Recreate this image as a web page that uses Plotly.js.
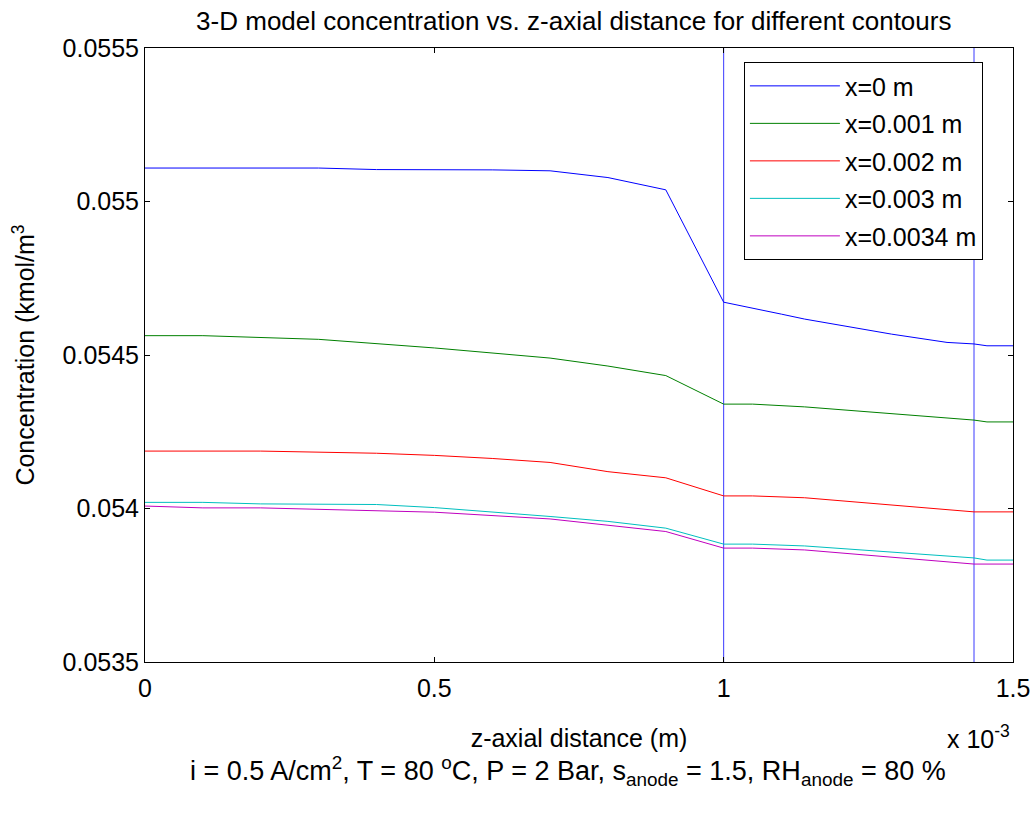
<!DOCTYPE html>
<html>
<head>
<meta charset="utf-8">
<script src="https://cdn.plot.ly/plotly-3.0.1.min.js"></script>
<style>html,body{margin:0;padding:0;background:#fff;}#chart{width:1032px;height:816px;}</style>
</head>
<body>
<div id="chart"></div>
<script>
// Data (z in metres, concentration in kmol/m^3)
const zBlue = [0,0.0001,0.0002,0.0003,0.0004,0.0005,0.0006,0.0007,0.0008,0.0009,0.001,0.0011,0.00114,0.00129,0.001386,0.0014326,0.001455,0.0015];
const cBlue = [0.055109,0.055109,0.055109,0.055109,0.055104,0.055104,0.055103,0.055100,0.055078,0.055038,0.054672,0.054633,0.054617,0.054568,0.054541,0.054536,0.05453,0.05453];

const zGreen = [0,0.0001,0.0003,0.0005,0.0007,0.0008,0.0009,0.001,0.00105,0.00114,0.0014326,0.001455,0.0015];
const cGreen = [0.054563,0.054563,0.054551,0.054523,0.05449,0.054464,0.054433,0.05434,0.05434,0.054331,0.054288,0.054282,0.054282];

const zRed = [0,0.0002,0.0004,0.0005,0.0006,0.0007,0.0008,0.0009,0.001,0.00105,0.00114,0.0014326,0.0015];
const cRed = [0.054187,0.054187,0.05418,0.054173,0.054163,0.05415,0.05412,0.0541,0.054041,0.054041,0.054035,0.053989,0.053989];

const zCyan = [0,0.0001,0.0002,0.0004,0.0005,0.0006,0.0007,0.0008,0.0009,0.001,0.00105,0.00114,0.0014326,0.001455,0.0015];
const cCyan = [0.05402,0.05402,0.054015,0.054013,0.054003,0.053989,0.053974,0.053958,0.053936,0.053884,0.053884,0.053878,0.053839,0.053832,0.053832];

const zMag = [0,0.0001,0.0002,0.0005,0.0007,0.0008,0.0009,0.001,0.00105,0.00114,0.0014326,0.0015];
const cMag = [0.054008,0.054002,0.054002,0.053988,0.053966,0.053946,0.053925,0.053871,0.053871,0.053865,0.053819,0.053819];

const seriesNames = ['x=0 m','x=0.001 m','x=0.002 m','x=0.003 m','x=0.0034 m'];
const seriesColors = ['#0000ff','#008000','#ff0000','#00bfbf','#bf00bf'];
const boundaries = [0.001, 0.0014326];

const xTickVals = [0,0.0005,0.001,0.0015];
const xTickText = ['0','0.5','1','1.5'];
const yTickVals = [0.0535,0.054,0.0545,0.055,0.0555];
const yTickText = ['0.0535','0.054','0.0545','0.055','0.0555'];

const zs = [zBlue,zGreen,zRed,zCyan,zMag];
const cs = [cBlue,cGreen,cRed,cCyan,cMag];

const font = 'Liberation Sans, Arial, sans-serif';
const FS = 25;

const traces = zs.map((z,i)=>({
  x: z, y: cs[i], type:'scatter', mode:'lines', name: seriesNames[i],
  legendgroup: 'g'+i,
  line:{color: seriesColors[i], width:1}
}));

const shapes = boundaries.map(b=>({
  type:'line', xref:'x', yref:'paper', x0:b, x1:b, y0:0, y1:1,
  line:{color:'#3a3aff', width:1}, layer:'below'
}));

const layout = {
  width:1032, height:816,
  margin:{l:145, r:19, t:48, b:154},
  paper_bgcolor:'#fff', plot_bgcolor:'#fff',
  font:{family:font, size:FS, color:'#000'},
  title:{text:'3-D model concentration vs. z-axial distance for different contours',
         font:{family:font, size:26, color:'#000'}, x:0.556, xanchor:'center', y:0.975, yanchor:'middle'},
  xaxis:{range:[0,0.0015], tickvals:xTickVals, ticktext:xTickText,
         ticks:'inside', ticklen:5, tickcolor:'#000', showline:true, linecolor:'#000', linewidth:1,
         mirror:'ticks', showgrid:false, zeroline:false, ticklabelstandoff:4,
         tickfont:{family:font, size:FS},
         title:{text:'z-axial distance (m)', font:{family:font, size:FS}, standoff:28}},
  yaxis:{range:[0.0535,0.0555], tickvals:yTickVals, ticktext:yTickText,
         ticks:'inside', ticklen:5, tickcolor:'#000', showline:true, linecolor:'#000', linewidth:1,
         mirror:'ticks', showgrid:false, zeroline:false,
         tickfont:{family:font, size:FS},
         title:{text:'Concentration (kmol/m<sup>3</sup>', font:{family:font, size:FS}, standoff:20}},
  legend:{x:0.69, y:0.977, xanchor:'left', yanchor:'top',
          bordercolor:'#000', borderwidth:1, bgcolor:'#fff',
          font:{family:font, size:FS}, traceorder:'grouped', tracegroupgap:2, itemwidth:90},
  shapes: shapes,
  annotations:[
    {xref:'paper', yref:'paper', x:0.922, y:-0.122, xanchor:'left', yanchor:'middle', showarrow:false,
     text:'x 10<sup>-3</sup>', font:{family:font, size:FS}},
    {xref:'paper', yref:'paper', x:0.487, y:-0.178, xanchor:'center', yanchor:'middle', showarrow:false,
     text:'i = 0.5 A/cm<sup>2</sup>, T = 80 <sup>o</sup>C, P = 2 Bar, s<sub>anode</sub> = 1.5, RH<sub>anode</sub> = 80 %',
     font:{family:font, size:27}}
  ],
  showlegend:true
};

Plotly.newPlot('chart', traces, layout, {displayModeBar:false, staticPlot:true});
</script>
</body>
</html>
